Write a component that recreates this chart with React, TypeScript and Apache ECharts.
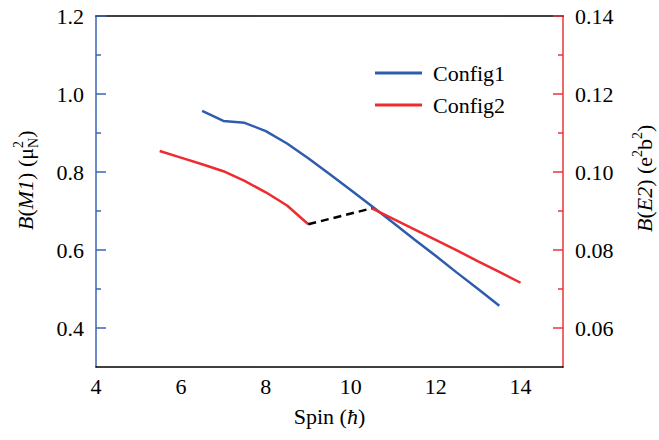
import React, { useEffect, useRef } from "react";
import * as echarts from "echarts";

const spin1 = [6.5, 7, 7.5, 8, 8.5, 9, 9.5, 10, 10.5, 11, 11.5, 12, 12.5, 13, 13.5];
const bm1 = [0.957, 0.931, 0.926, 0.905, 0.873, 0.835, 0.795, 0.754, 0.712, 0.67, 0.627, 0.585, 0.542, 0.5, 0.457];
const spin2a = [5.5, 6, 6.5, 7, 7.5, 8, 8.5, 9];
const be2a = [0.1054, 0.1037, 0.102, 0.1002, 0.0977, 0.0948, 0.0914, 0.0866];
const spin2b = [10.5, 11, 11.5, 12, 12.5, 13, 13.5, 14];
const be2b = [0.0907, 0.088, 0.0853, 0.0826, 0.0799, 0.0771, 0.0744, 0.0716];
const linkSpin = [9, 10.5];
const linkBe2 = [0.0866, 0.0907];

const leftLabels = [0.4, 0.6, 0.8, 1.0, 1.2];
const leftMinor = [0.5, 0.7, 0.9, 1.1];
const rightLabels = [0.06, 0.08, 0.1, 0.12, 0.14];
const rightMinor = [0.07, 0.09, 0.11, 0.13];

const FONT = "Liberation Serif";
const BLUE = "#2F5DAD";
const RED = "#EE2B2E";

const pair = (xs: number[], ys: number[]) => xs.map((x, i) => [x, ys[i]]);

type Part = { t?: string; italic?: boolean; size?: number; dy?: number; noAdv?: boolean; gap?: number };

function measure(t: string, size: number, italic: boolean) {
  const c = document.createElement("canvas").getContext("2d")!;
  c.font = `${italic ? "italic " : ""}${size}px "${FONT}"`;
  return c.measureText(t).width;
}

function rotatedName(parts: Part[], x: number, y: number, base: number) {
  const children: any[] = [];
  let pos = 0;
  let pending = 0;
  for (const p of parts) {
    if (p.gap) {
      pos += p.gap;
      continue;
    }
    const size = p.size ?? base;
    const w = measure(p.t!, size, !!p.italic);
    children.push({
      type: "text",
      x: pos,
      y: (p.dy ?? 0) - 0.3375 * size,
      style: {
        text: p.t,
        fontSize: size,
        fontFamily: FONT,
        fontStyle: p.italic ? "italic" : "normal",
        fill: "#000",
        align: "left",
        verticalAlign: "middle",
      },
    });
    if (p.noAdv) {
      pending = Math.max(pending, w);
    } else {
      pos += Math.max(pending, w);
      pending = 0;
    }
  }
  return { type: "group", x, y, rotation: Math.PI / 2, children };
}

export default function App() {
  const ref = useRef<HTMLDivElement>(null);
  useEffect(() => {
    document.body.style.margin = "0";
    const chart = echarts.init(ref.current!, null, { renderer: "svg" });
    const base = 22;
    const leftName = rotatedName(
      [
        { t: "B", italic: true },
        { t: "(" },
        { t: "M1", italic: true },
        { t: ")" },
        { gap: 5.5 },
        { t: "(" },
        { t: "μ" },
        { t: "N", size: 14, dy: 5, noAdv: true },
        { t: "2", size: 14, dy: -10 },
        { t: ")" },
      ],
      33,
      230,
      base
    );
    const rightName = rotatedName(
      [
        { t: "B", italic: true },
        { t: "(" },
        { t: "E2", italic: true },
        { t: ")" },
        { gap: 5.5 },
        { t: "(e" },
        { t: "2", size: 14, dy: -10 },
        { t: "b" },
        { t: "2", size: 14, dy: -10 },
        { t: ")" },
      ],
      652,
      232,
      base
    );
    const label = { fontSize: 22, fontFamily: FONT, color: "#000" };
    chart.setOption({
      animation: false,
      grid: { left: 96, right: 96, top: 16, bottom: 73 },
      legend: {
        data: ["Config1", "Config2"],
        orient: "vertical",
        left: 375,
        top: 62,
        icon: "rect",
        itemWidth: 47,
        itemHeight: 3,
        itemGap: 10,
        padding: 0,
        textStyle: { fontSize: 22, fontFamily: FONT, color: "#000", padding: [0, 0, 0, 6] },
      },
      xAxis: [
        {
          type: "value",
          min: 4,
          max: 15,
          interval: 2,
          position: "bottom",
          axisLine: { lineStyle: { color: "#000", width: 1.5 } },
          axisTick: { show: false },
          splitLine: { show: false },
          axisLabel: { ...label, margin: 8, showMaxLabel: false },
          name: "{n|Spin (}{i|ħ}{n|)}",
          nameLocation: "middle",
          nameGap: 38,
          nameTextStyle: {
            rich: {
              n: { fontSize: 22, fontFamily: FONT, color: "#000" },
              i: { fontSize: 22, fontFamily: FONT, fontStyle: "italic", color: "#000" },
            },
          },
        },
        {
          type: "value",
          min: 4,
          max: 15,
          position: "top",
          axisLine: { lineStyle: { color: "#000", width: 1.5 } },
          axisTick: { show: false },
          axisLabel: { show: false },
          splitLine: { show: false },
        },
      ],
      yAxis: [
        {
          type: "value",
          min: 0.3,
          max: 1.2,
          interval: 0.1,
          position: "left",
          axisLine: { show: true, lineStyle: { color: "#3A66B4", width: 1.5 } },
          axisTick: { show: true, inside: true, length: 10, customValues: leftLabels, lineStyle: { color: "#3A66B4", width: 1.5 } },
          axisLabel: { ...label, margin: 12, customValues: leftLabels, formatter: (v: number) => v.toFixed(1) },
          splitLine: { show: false },
        },
        {
          type: "value",
          min: 0.3,
          max: 1.2,
          interval: 0.1,
          position: "left",
          axisLine: { show: false },
          axisTick: { show: true, inside: true, length: 5, customValues: leftMinor, lineStyle: { color: "#3A66B4", width: 1.5 } },
          axisLabel: { show: false },
          splitLine: { show: false },
        },
        {
          type: "value",
          min: 0.05,
          max: 0.14,
          interval: 0.01,
          position: "right",
          axisLine: { show: true, lineStyle: { color: "#E8343A", width: 1.5 } },
          axisTick: { show: true, inside: true, length: 10, customValues: rightLabels, lineStyle: { color: "#E8343A", width: 1.5 } },
          axisLabel: { ...label, margin: 12, customValues: rightLabels, formatter: (v: number) => v.toFixed(2) },
          splitLine: { show: false },
        },
        {
          type: "value",
          min: 0.05,
          max: 0.14,
          interval: 0.01,
          position: "right",
          axisLine: { show: false },
          axisTick: { show: true, inside: true, length: 5, customValues: rightMinor, lineStyle: { color: "#E8343A", width: 1.5 } },
          axisLabel: { show: false },
          splitLine: { show: false },
        },
      ],
      series: [
        {
          name: "Config1",
          type: "line",
          yAxisIndex: 0,
          data: pair(spin1, bm1),
          symbol: "none",
          lineStyle: { color: BLUE, width: 2.5 },
          itemStyle: { color: BLUE },
        },
        {
          name: "Config2",
          type: "line",
          yAxisIndex: 2,
          data: pair(spin2a, be2a),
          symbol: "none",
          lineStyle: { color: RED, width: 2.5 },
          itemStyle: { color: RED },
        },
        {
          name: "Config2",
          type: "line",
          yAxisIndex: 2,
          data: pair(spin2b, be2b),
          symbol: "none",
          lineStyle: { color: RED, width: 2.5 },
          itemStyle: { color: RED },
        },
        {
          name: "link",
          type: "line",
          yAxisIndex: 2,
          data: pair(linkSpin, linkBe2),
          symbol: "none",
          lineStyle: { color: "#000", width: 2.5, type: [8, 5] },
          itemStyle: { color: "#000" },
        },
      ],
      graphic: [leftName, rightName],
    });
    return () => chart.dispose();
  }, []);
  return <div ref={ref} style={{ width: 659, height: 440 }} />;
}
